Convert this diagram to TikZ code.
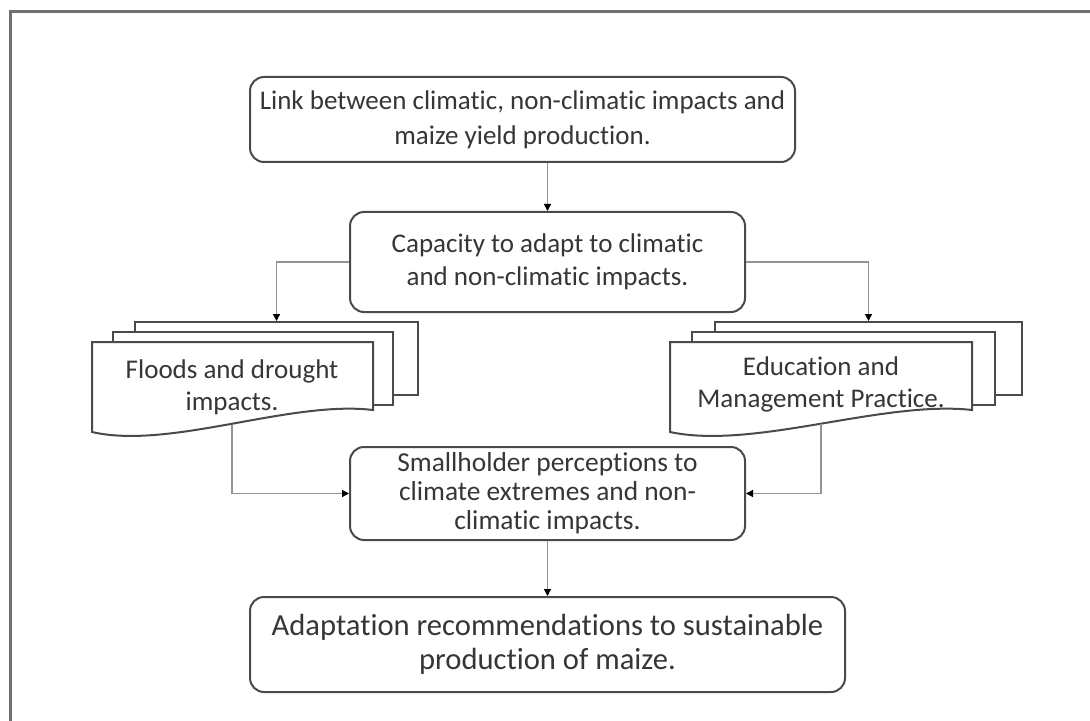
\documentclass[tikz,border=0pt]{standalone}
\usepackage{fontspec}
\setmainfont[Ligatures=NoCommon]{Carlito}
\usepackage{tikz}
\usetikzlibrary{arrows.meta}
\usepackage{xcolor}
\definecolor{framegray}{HTML}{707070}
\definecolor{boxgray}{HTML}{4A4A4A}
\definecolor{textgray}{HTML}{363636}
\definecolor{conngray}{HTML}{949494}

\begin{document}
\begin{tikzpicture}[x=0.5pt,y=-0.5pt,
  box/.style={draw=boxgray, line width=1pt, rounded corners=7pt, fill=white, align=center,
    text=textgray, font=\fontsize{13.5}{16.5}\selectfont, inner sep=0pt},
  sheet/.style={draw=boxgray, line width=1pt, fill=white, inner sep=0pt, minimum height=36.5pt},
  doctext/.style={align=center, text=textgray, font=\fontsize{13.5}{16}\selectfont, inner sep=0pt},
  conn/.style={draw=conngray, line width=0.6pt, -{Triangle[length=3.5pt,width=3.5pt,color=black]}}]
\useasboundingbox (0,0) rectangle (1090,721);
\draw [framegray, line width=1.5pt] (10,730) -- (10,12) -- (1100,12);
\node [box, minimum width=272.5pt, minimum height=42.5pt, font=\fontsize{13.5}{17.5}\selectfont] (link) at (522.5,119.5)
  {Link between climatic, non-climatic impacts and\\maize yield production.};
\node [box, minimum width=197.5pt, minimum height=50pt] (capacity) at (547.5,262)
  {Capacity to adapt to climatic\\and non-climatic impacts.};
\node [sheet, minimum width=141.5pt] (floodsback) at (276.5,358.5) {};
\node [sheet, minimum width=140pt] (floodsmid) at (253,368.5) {};
\draw [boxgray, line width=1pt, fill=white] (92,342) -- (373,342) -- (373,410)
  .. controls (290,400) and (170,450) .. (92,432) -- cycle;
\node [doctext, minimum width=140pt, minimum height=38pt] (floods) at (232,387)
  {Floods and drought\\impacts.};
\node [sheet, minimum width=153.5pt] (educback) at (868.5,358.5) {};
\node [sheet, minimum width=151.5pt] (educmid) at (843.5,368.5) {};
\draw [boxgray, line width=1pt, fill=white] (670,342) -- (972,342) -- (972,410)
  .. controls (883,400) and (754,450) .. (670,432) -- cycle;
\node [doctext, minimum width=150pt, minimum height=40pt] (educ) at (821,384)
  {Education and\\Management Practice.};
\node [box, minimum width=197.5pt, minimum height=46.5pt, font=\fontsize{13.7}{14.5}\selectfont] (percep) at (547.5,493.5)
  {Smallholder perceptions to\\climate extremes and non-\\climatic impacts.};
\node [box, minimum width=297.5pt, minimum height=47.5pt, font=\fontsize{15.3}{17}\selectfont] (adapt) at (547.5,644.5)
  {Adaptation recommendations to sustainable\\production of maize.};
\draw [conn] (link.south -| capacity.north) -- (capacity.north);
\draw [conn] (capacity.west) -| (floodsback.north);
\draw [conn] (capacity.east) -| (educback.north);
\draw [conn] (floods.south) |- (percep.west);
\draw [conn] (educ.south) |- (percep.east);
\draw [conn] (percep.south) -- (adapt.north);
\end{tikzpicture}
\end{document}
